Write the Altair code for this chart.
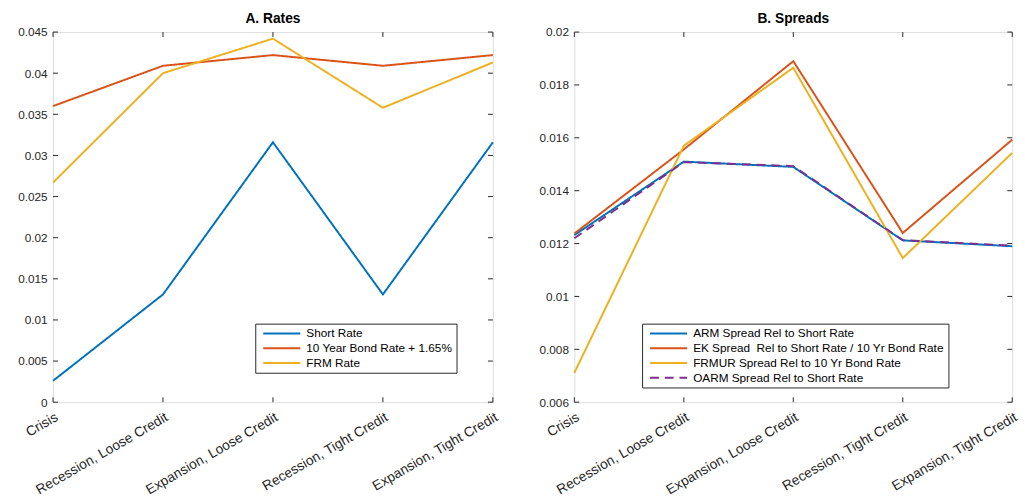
import altair as alt
import pandas as pd

FONT = "Liberation Sans"
INK = "#262626"

categories = [
    "Crisis",
    "Recession, Loose Credit",
    "Expansion, Loose Credit",
    "Recession, Tight Credit",
    "Expansion, Tight Credit",
]

# Panel A: rates
rate_names = ["Short Rate", "10 Year Bond Rate + 1.65%", "FRM Rate"]
short_rate = [0.0026, 0.0131, 0.0316, 0.0131, 0.0316]
bond_rate = [0.0360, 0.0409, 0.0422, 0.0409, 0.0422]
frm_rate = [0.0267, 0.0400, 0.0442, 0.0358, 0.0413]
rate_ticks = [0.0, 0.005, 0.01, 0.015, 0.02, 0.025, 0.03, 0.035, 0.04, 0.045]

# Panel B: spreads
spread_names = [
    "ARM Spread Rel to Short Rate",
    "EK Spread\u00a0 Rel to Short Rate / 10 Yr Bond Rate",
    "FRMUR Spread Rel to 10 Yr Bond Rate",
    "OARM Spread Rel to Short Rate",
]
arm_spread = [0.01232, 0.01510, 0.01490, 0.01212, 0.01190]
ek_spread = [0.01238, 0.01556, 0.01890, 0.01240, 0.01593]
frmur_spread = [0.00711, 0.01570, 0.01865, 0.01145, 0.01543]
oarm_spread = [0.01220, 0.01508, 0.01493, 0.01213, 0.01192]
spread_ticks = [0.006, 0.008, 0.01, 0.012, 0.014, 0.016, 0.018, 0.02]

colors = ["#0072BD", "#D95319", "#EDB120", "#7E2F8E"]

H = 377
TICK = 5


def long_frame(names, series):
    rows = []
    for order, (name, vals) in enumerate(zip(names, series)):
        for cat, v in zip(categories, vals):
            rows.append({"series": name, "order": order, "cat": cat, "value": v})
    return pd.DataFrame(rows)


def panel(title, names, series, ticks, ydomain, W, lx, ly, dashes):
    df = long_frame(names, series)
    xenc = alt.X(
        "cat:N",
        sort=categories,
        scale=alt.Scale(type="point", padding=0),
        axis=alt.Axis(
            title=None, domain=False, ticks=False, labelAngle=-30,
            labelAlign="right", labelBaseline="top", labelPadding=8,
            labelFont=FONT, labelFontSize=14, labelColor=INK, labelLimit=0,
        ),
    )
    yscale = alt.Scale(domain=ydomain, nice=False, zero=False)
    legend = alt.Legend(
        title=None, orient="none", legendX=lx, legendY=ly,
        strokeColor=INK, fillColor="white", padding=4, cornerRadius=0,
        symbolType="M-6.3,0H6.3", symbolSize=36, symbolStrokeWidth=2,
        symbolOffset=17, labelOffset=19, rowPadding=3, labelLimit=0,
        labelFont=FONT, labelFontSize=12, labelColor="black",
    )
    lines = alt.Chart(df).mark_line(strokeWidth=2).encode(
        x=xenc,
        y=alt.Y(
            "value:Q", scale=yscale,
            axis=alt.Axis(
                title=None, domain=False, ticks=False, grid=False, values=ticks,
                format=".3~f", labelPadding=6, labelFont=FONT,
                labelFontSize=12, labelColor=INK,
            ),
        ),
        color=alt.Color(
            "series:N", sort=names,
            scale=alt.Scale(domain=names, range=colors[: len(names)]),
            legend=legend,
        ),
        strokeDash=alt.StrokeDash(
            "series:N", sort=names,
            scale=alt.Scale(domain=names, range=dashes),
            legend=legend,
        ),
        order="order:Q",
    )

    # Inward-pointing tick marks on all four sides of the box
    tick_df = pd.DataFrame({"t": ticks})
    cat_df = pd.DataFrame({"cat": categories})
    ytick_l = alt.Chart(tick_df).mark_rule(color=INK, strokeWidth=1).encode(
        y=alt.Y("t:Q", scale=yscale), x=alt.value(0), x2=alt.value(TICK)
    )
    ytick_r = alt.Chart(tick_df).mark_rule(color=INK, strokeWidth=1).encode(
        y=alt.Y("t:Q", scale=yscale), x=alt.value(W - TICK), x2=alt.value(W)
    )
    xtick_b = alt.Chart(cat_df).mark_rule(color=INK, strokeWidth=1).encode(
        x=alt.X("cat:N", sort=categories), y=alt.value(H - TICK), y2=alt.value(H)
    )
    xtick_t = alt.Chart(cat_df).mark_rule(color=INK, strokeWidth=1).encode(
        x=alt.X("cat:N", sort=categories), y=alt.value(0), y2=alt.value(TICK)
    )
    return alt.layer(ytick_l, ytick_r, xtick_b, xtick_t, lines).properties(
        width=W, height=H,
        title=alt.TitleParams(
            title, font=FONT, fontSize=14, fontWeight="bold", color="black",
            anchor="middle", offset=0,
        ),
    )


rates = panel(
    "A. Rates", rate_names, [short_rate, bond_rate, frm_rate],
    rate_ticks, [0, 0.045], 448, 206, 297, [[1, 0], [1, 0], [1, 0]],
)
spreads = panel(
    "B. Spreads", spread_names, [arm_spread, ek_spread, frmur_spread, oarm_spread],
    spread_ticks, [0.006, 0.02], 446, 69, 297, [[1, 0], [1, 0], [1, 0], [9, 6]],
)

chart = (
    alt.hconcat(rates, spreads, spacing=38)
    .resolve_scale(color="independent", strokeDash="independent", x="independent", y="independent")
    .properties(padding={"left": 17, "top": 7, "right": 5, "bottom": 0})
    .configure_view(stroke=INK, strokeWidth=1)
    .configure(background="white")
)

chart.save("out.html", embed_options={"renderer": "svg", "actions": False})
